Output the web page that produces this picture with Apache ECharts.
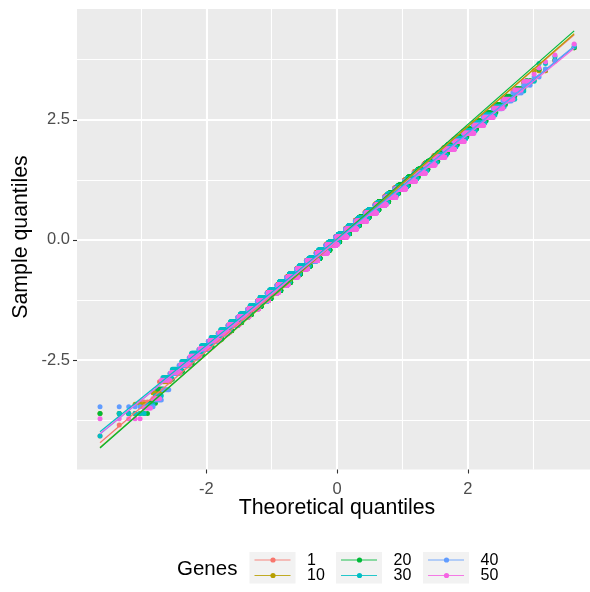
<!DOCTYPE html>
<html>
<head>
<meta charset="utf-8">
<script src="https://cdn.jsdelivr.net/npm/echarts@6/dist/echarts.min.js"></script>
<style>
html,body{margin:0;padding:0;background:#fff;}
#chart{width:590px;height:592px;}
</style>
</head>
<body>
<div id="chart"></div>
<script>
// ---------- data ----------
const sampleSize = 3500;                 // observations per gene
const genes = ['1', '10', '20', '30', '40', '50'];

// Each gene: distinct sample values (levels) and the theoretical quantile
// at which the run of each level ends in the sorted sample.
const g1Levels = [-4.08,-3.85,-3.61,-3.37,-3.18,-2.95,-2.78,-2.62,-2.45,-2.28,-2.11,-1.94,-1.78,-1.61,-1.44,-1.27,-1.10,-0.94,-0.77,-0.60,-0.43,-0.26,-0.10,0.07,0.24,0.41,0.58,0.74,0.91,1.08,1.25,1.42,1.58,1.75,1.92,2.09,2.26,2.42,2.59,2.76,2.93,3.10,3.27,3.52,3.72,4.00];
const g1Ends   = [-3.50,-3.25,-3.02,-2.85,-2.72,-2.57,-2.42,-2.27,-2.12,-1.97,-1.82,-1.67,-1.52,-1.37,-1.22,-1.07,-0.92,-0.77,-0.62,-0.47,-0.32,-0.17,-0.02,0.13,0.28,0.43,0.58,0.73,0.88,1.03,1.18,1.33,1.48,1.63,1.78,1.93,2.08,2.23,2.38,2.53,2.68,2.83,3.00,3.25,3.45,9];

const g10Levels = [-3.61,-3.42,-3.18,-2.94,-2.77,-2.60,-2.44,-2.27,-2.10,-1.93,-1.76,-1.60,-1.43,-1.26,-1.09,-0.92,-0.76,-0.59,-0.42,-0.25,-0.08,0.08,0.25,0.42,0.59,0.76,0.92,1.09,1.26,1.43,1.60,1.76,1.93,2.10,2.27,2.44,2.60,2.77,2.94,3.11,3.28,3.52,3.74,4.00];
const g10Ends   = [-3.10,-2.85,-2.70,-2.55,-2.40,-2.25,-2.10,-1.95,-1.80,-1.65,-1.50,-1.35,-1.20,-1.05,-0.90,-0.75,-0.60,-0.45,-0.30,-0.15,0.00,0.15,0.30,0.45,0.60,0.75,0.90,1.05,1.20,1.35,1.50,1.65,1.80,1.95,2.10,2.25,2.40,2.55,2.70,2.85,3.00,3.25,3.45,9];

const g20Levels = [-3.61,-3.40,-3.10,-2.90,-2.73,-2.56,-2.39,-2.22,-2.06,-1.89,-1.72,-1.55,-1.38,-1.22,-1.05,-0.88,-0.71,-0.54,-0.38,-0.21,-0.04,0.13,0.30,0.47,0.63,0.80,0.97,1.14,1.31,1.47,1.64,1.81,1.98,2.15,2.31,2.48,2.65,2.82,2.99,3.15,3.32,3.55,3.75,4.00];
const g20Ends   = [-2.90,-2.78,-2.66,-2.51,-2.36,-2.21,-2.06,-1.91,-1.76,-1.61,-1.46,-1.31,-1.16,-1.01,-0.86,-0.71,-0.56,-0.41,-0.26,-0.11,0.04,0.19,0.34,0.49,0.64,0.79,0.94,1.09,1.24,1.39,1.54,1.69,1.84,1.99,2.14,2.29,2.44,2.59,2.74,2.89,3.04,3.25,3.45,9];

const g30Levels = [-4.08,-3.61,-3.43,-3.24,-2.86,-2.69,-2.53,-2.36,-2.20,-2.03,-1.87,-1.70,-1.54,-1.37,-1.20,-1.04,-0.87,-0.71,-0.54,-0.38,-0.21,-0.05,0.12,0.29,0.45,0.62,0.78,0.95,1.11,1.28,1.44,1.61,1.77,1.94,2.11,2.27,2.44,2.60,2.77,2.93,3.10,3.30,3.67,3.82,4.02];
const g30Ends   = [-3.50,-2.92,-2.80,-2.68,-2.53,-2.38,-2.23,-2.08,-1.93,-1.78,-1.63,-1.48,-1.33,-1.18,-1.03,-0.88,-0.73,-0.58,-0.43,-0.28,-0.13,0.02,0.17,0.32,0.47,0.62,0.77,0.92,1.07,1.22,1.37,1.52,1.67,1.82,1.97,2.12,2.27,2.42,2.57,2.72,2.87,3.04,3.25,3.45,9];

const g40Levels = [-3.47,-3.33,-3.12,-2.78,-2.61,-2.45,-2.28,-2.11,-1.95,-1.78,-1.61,-1.45,-1.28,-1.11,-0.95,-0.78,-0.61,-0.44,-0.28,-0.11,0.06,0.22,0.39,0.56,0.72,0.89,1.06,1.22,1.39,1.56,1.72,1.89,2.06,2.22,2.39,2.56,2.73,2.89,3.06,3.22,3.39,3.56,3.73,4.06];
const g40Ends   = [-2.80,-2.68,-2.57,-2.42,-2.27,-2.12,-1.97,-1.82,-1.67,-1.52,-1.37,-1.22,-1.07,-0.92,-0.77,-0.62,-0.47,-0.32,-0.17,-0.02,0.13,0.28,0.43,0.58,0.73,0.88,1.03,1.18,1.33,1.48,1.63,1.78,1.93,2.08,2.23,2.38,2.53,2.68,2.83,2.98,3.13,3.28,3.45,9];

const g50Levels = [-3.72,-3.50,-3.30,-2.92,-2.76,-2.59,-2.42,-2.26,-2.09,-1.93,-1.76,-1.60,-1.43,-1.26,-1.10,-0.93,-0.77,-0.60,-0.43,-0.27,-0.10,0.06,0.23,0.39,0.56,0.73,0.89,1.06,1.22,1.39,1.56,1.72,1.89,2.05,2.22,2.38,2.55,2.74,2.93,3.12,3.30,3.45,3.58,3.71,3.85,4.08];
const g50Ends   = [-2.97,-2.84,-2.70,-2.55,-2.40,-2.25,-2.10,-1.95,-1.80,-1.65,-1.50,-1.35,-1.20,-1.05,-0.90,-0.75,-0.60,-0.45,-0.30,-0.15,0.00,0.15,0.30,0.45,0.60,0.75,0.90,1.05,1.20,1.35,1.50,1.65,1.80,1.95,2.10,2.25,2.40,2.55,2.70,2.85,2.97,3.05,3.15,3.28,3.45,9];

// reference (qq) line of each gene: sample value at the lowest and highest theoretical quantile
const qqLineLow  = [-4.22, -4.32, -4.33, -3.99, -4.04, -4.03];
const qqLineHigh = [ 4.27,  4.29,  4.35,  4.02,  4.03,  3.99];

// axis ticks
const xTicks = [-2, 0, 2];
const yTicks = [-2.5, 0, 2.5];
const xMinorGrid = [-3, -1, 1, 3];
const yMinorGrid = [-3.75, -1.25, 1.25, 3.75];

// ---------- style ----------
const colors = ['#F8766D', '#B79F00', '#00BA38', '#00BFC4', '#619CFF', '#F564E3'];
const FONT = 'Liberation Sans, Arial, Helvetica, sans-serif';

// ---------- stat_qq: theoretical normal quantiles ----------
function qnorm(p) {
  const a = [-3.969683028665376e+01, 2.209460984245205e+02, -2.759285104469687e+02, 1.383577518672690e+02, -3.066479806614716e+01, 2.506628277459239e+00];
  const b = [-5.447609879822406e+01, 1.615858368580409e+02, -1.556989798598866e+02, 6.680131188771972e+01, -1.328068155288572e+01];
  const c = [-7.784894002430293e-03, -3.223964580411365e-01, -2.400758277161838e+00, -2.549732539343734e+00, 4.374664141464968e+00, 2.938163982698783e+00];
  const d = [7.784695709041462e-03, 3.224671290700398e-01, 2.445134137142996e+00, 3.754408661907416e+00];
  const pl = 0.02425, ph = 1 - pl;
  let q, r;
  if (p < pl) {
    q = Math.sqrt(-2 * Math.log(p));
    return (((((c[0]*q+c[1])*q+c[2])*q+c[3])*q+c[4])*q+c[5]) / ((((d[0]*q+d[1])*q+d[2])*q+d[3])*q+1);
  }
  if (p > ph) {
    q = Math.sqrt(-2 * Math.log(1 - p));
    return -(((((c[0]*q+c[1])*q+c[2])*q+c[3])*q+c[4])*q+c[5]) / ((((d[0]*q+d[1])*q+d[2])*q+d[3])*q+1);
  }
  q = p - 0.5; r = q * q;
  return (((((a[0]*r+a[1])*r+a[2])*r+a[3])*r+a[4])*r+a[5])*q / (((((b[0]*r+b[1])*r+b[2])*r+b[3])*r+b[4])*r+1);
}

function qqPoints(levels, ends) {
  const pts = [];
  let k = 0;
  for (let i = 1; i <= sampleSize; i++) {
    const x = qnorm((i - 0.5) / sampleSize);
    while (x > ends[k]) k++;
    pts.push([x, levels[k]]);
  }
  return pts;
}

const allLevels = [g1Levels, g10Levels, g20Levels, g30Levels, g40Levels, g50Levels];
const allEnds = [g1Ends, g10Ends, g20Ends, g30Ends, g40Ends, g50Ends];
const xLo = qnorm(0.5 / sampleSize);
const xHi = qnorm(1 - 0.5 / sampleSize);

const series = [];
// panel gridlines (white, under the points)
const gridMarks = [];
xMinorGrid.forEach(v => gridMarks.push({ xAxis: v, lineStyle: { width: 1.1 } }));
yMinorGrid.forEach(v => gridMarks.push({ yAxis: v, lineStyle: { width: 1.1 } }));
xTicks.forEach(v => gridMarks.push({ xAxis: v, lineStyle: { width: 2.1 } }));
yTicks.forEach(v => gridMarks.push({ yAxis: v, lineStyle: { width: 2.1 } }));
series.push({
  type: 'line', data: [], z: 0, silent: true,
  markLine: {
    z: 0, zlevel: 0, silent: true, symbol: 'none', animation: false,
    label: { show: false },
    lineStyle: { color: '#FFFFFF', type: 'solid' },
    emphasis: { disabled: true },
    data: gridMarks
  }
});
genes.forEach((g, i) => {
  series.push({
    name: g, type: 'scatter', z: 3, silent: true,
    symbol: 'circle', symbolSize: 5,
    itemStyle: { color: colors[i], opacity: 1 },
    progressive: 0, progressiveThreshold: 1e7,
    data: qqPoints(allLevels[i], allEnds[i])
  });
});
genes.forEach((g, i) => {
  series.push({
    name: g + ' line', type: 'line', z: 4, silent: true,
    symbol: 'none', lineStyle: { color: colors[i], width: 1.2 },
    data: [[xLo, qqLineLow[i]], [xHi, qqLineHigh[i]]]
  });
});

// legend drawn as graphics (ggplot style, 3 columns x 2 rows)
const boxX = [249.5, 336, 423];
const rowY = [560, 575.5];
const legendChildren = [{
  type: 'text', style: { x: 177, y: 569, text: 'Genes', fill: '#000', font: '20.5px ' + FONT, textVerticalAlign: 'middle' }
}];
boxX.forEach((bx, j) => {
  legendChildren.push({ type: 'rect', shape: { x: bx, y: 552, width: 46, height: 31.5 }, style: { fill: '#F2F2F2' } });
  for (let r = 0; r < 2; r++) {
    const gi = j * 2 + r;
    legendChildren.push({ type: 'line', shape: { x1: bx + 5, y1: rowY[r], x2: bx + 41, y2: rowY[r] }, style: { stroke: colors[gi], lineWidth: 1.2, opacity: 0.85 } });
    legendChildren.push({ type: 'circle', shape: { cx: bx + 23.5, cy: rowY[r], r: 2.6 }, style: { fill: colors[gi] } });
    legendChildren.push({ type: 'text', style: { x: bx + 57.5, y: rowY[r] + 0.5, text: genes[gi], fill: '#000', font: '16px ' + FONT, textVerticalAlign: 'middle' } });
  }
});

const chart = echarts.init(document.getElementById('chart'), null, { renderer: 'canvas' });
chart.setOption({
  animation: false,
  backgroundColor: '#FFFFFF',
  grid: {
    left: 77, right: 0, top: 9, bottom: 122.5,
    show: true, backgroundColor: '#EBEBEB', borderWidth: 0
  },
  xAxis: {
    type: 'value', min: -3.98, max: 3.87, position: 'bottom',
    axisLine: { show: false, onZero: false },
    splitLine: { show: false },
    axisTick: { show: true, length: 4, lineStyle: { color: '#333333', width: 1.1 }, customValues: xTicks },
    axisLabel: { customValues: xTicks, color: '#4D4D4D', fontSize: 16.5, fontFamily: FONT, margin: 11, formatter: v => String(v) }
  },
  yAxis: {
    type: 'value', min: -4.777, max: 4.806, position: 'left',
    axisLine: { show: false, onZero: false },
    splitLine: { show: false },
    axisTick: { show: true, length: 4, lineStyle: { color: '#333333', width: 1.1 }, customValues: yTicks },
    axisLabel: { customValues: yTicks, color: '#4D4D4D', fontSize: 16.5, fontFamily: FONT, margin: 7, formatter: v => v.toFixed(1) }
  },
  graphic: [
    { type: 'text', style: { x: 337, y: 508, text: 'Theoretical quantiles', fill: '#000', font: '21.3px ' + FONT, textAlign: 'center', textVerticalAlign: 'middle' } },
    { type: 'text', rotation: Math.PI / 2, x: 21, y: 237, style: { x: 0, y: 0, text: 'Sample quantiles', fill: '#000', font: '21.3px ' + FONT, textAlign: 'center', textVerticalAlign: 'middle' } },
    { type: 'group', children: legendChildren }
  ],
  series: series
});
</script>
</body>
</html>
